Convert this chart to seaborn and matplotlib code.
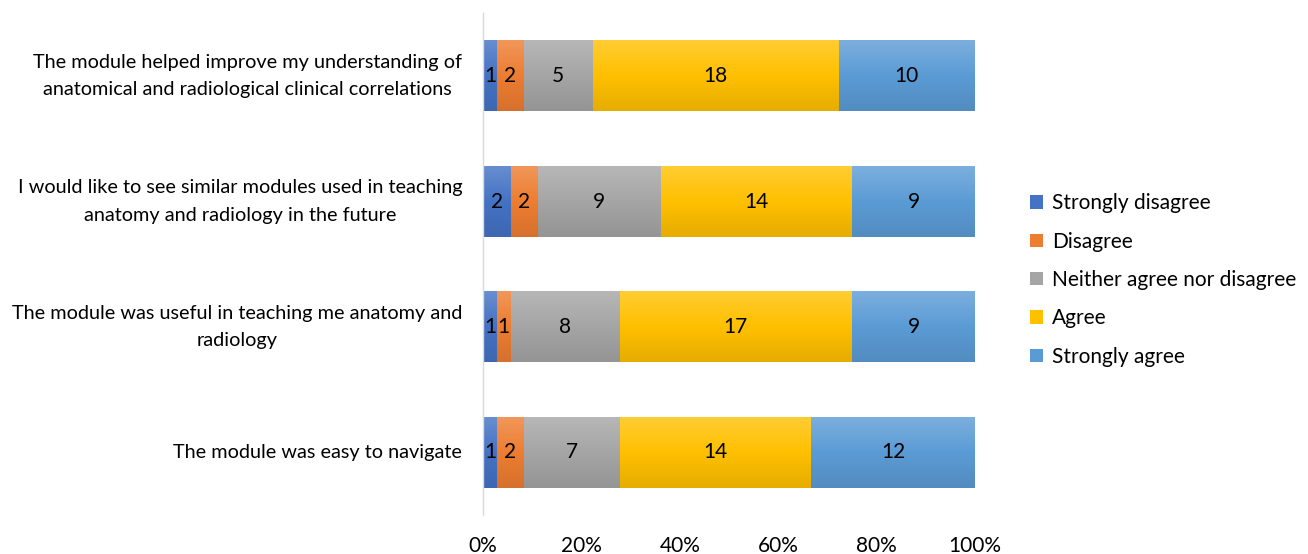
import numpy as np
import pandas as pd
import matplotlib
matplotlib.use("Agg")
import matplotlib.pyplot as plt
import seaborn as sns
from matplotlib.colors import LinearSegmentedColormap, to_rgb
from matplotlib.ticker import FuncFormatter
from matplotlib.patches import Patch

questions = [
    "The module helped improve my understanding of\nanatomical and radiological clinical correlations",
    "I would like to see similar modules used in teaching\nanatomy and radiology in the future",
    "The module was useful in teaching me anatomy and\nradiology",
    "The module was easy to navigate",
]
levels = ["Strongly disagree", "Disagree", "Neither agree nor disagree", "Agree", "Strongly agree"]
strongly_disagree = [1, 2, 1, 1]
disagree = [2, 2, 1, 2]
neither = [5, 9, 8, 7]
agree = [18, 14, 17, 14]
strongly_agree = [10, 9, 9, 12]
colors = ["#4472C4", "#ED7D31", "#A5A5A5", "#FFC000", "#5B9BD5"]
xticks = [0, 20, 40, 60, 80, 100]

counts = np.array([strongly_disagree, disagree, neither, agree, strongly_agree], dtype=float)
totals = counts.sum(axis=0)
pct = counts / totals * 100
cum = np.cumsum(pct, axis=0)

sns.set_theme(style="white")
plt.rcParams["font.family"] = ["Lato", "DejaVu Sans"]
plt.rcParams["text.color"] = "black"
plt.rcParams["xtick.color"] = "black"
plt.rcParams["ytick.color"] = "black"

fig = plt.figure(figsize=(13.08, 5.54), dpi=100)
ax = fig.add_axes([483 / 1308, 1 - 515.25 / 554, (975 - 483) / 1308, (515.25 - 13.25) / 554])

def grad_cmap(c):
    r = np.array(to_rgb(c))
    top = r + (1 - r) * 0.2
    bot = r * 0.9
    return LinearSegmentedColormap.from_list("g", [top, r, bot])

grad = np.linspace(0, 1, 256).reshape(-1, 1)
order = list(range(len(levels)))[::-1]
zc = 1.0
for i in order:
    n_before = len(ax.patches)
    df = pd.DataFrame({"question": questions, "value": cum[i]})
    sns.barplot(data=df, x="value", y="question", order=questions, color=colors[i],
                orient="h", width=0.56, ax=ax, saturation=1, label=levels[i])
    new = ax.patches[n_before:]
    cm = grad_cmap(colors[i])
    for p in new:
        x0, y0 = p.get_x(), p.get_y()
        w, h = p.get_width(), p.get_height()
        zc += 0.01
        ax.imshow(grad, cmap=cm, aspect="auto", origin="upper",
                  extent=[x0, x0 + w, y0 + h, y0], zorder=zc, interpolation="bilinear")
        p.set_zorder(0.5)

# value labels
for j in range(len(questions)):
    for i in range(len(levels)):
        xc = cum[i, j] - pct[i, j] / 2
        ax.text(xc, j, f"{int(counts[i, j])}", ha="center", va="center",
                fontsize=15, color="black", zorder=10)

ax.set_xlim(0, 100)
ax.set_ylim(len(questions) - 0.5, -0.5)
ax.set_xticks(xticks)
ax.xaxis.set_major_formatter(FuncFormatter(lambda v, _: f"{v:.0f}%"))
ax.set_xlabel("")
ax.set_ylabel("")
ax.tick_params(axis="x", length=0, pad=15, labelsize=15)
ax.tick_params(axis="y", length=0, pad=15, labelsize=14.3)
for lbl in ax.get_yticklabels():
    lbl.set_multialignment("center")
    lbl.set_linespacing(1.75)
    lbl.set_verticalalignment("center")
for s in ["top", "right", "bottom"]:
    ax.spines[s].set_visible(False)
ax.spines["left"].set_color("#D9D9D9")
ax.spines["left"].set_linewidth(1)
ax.grid(False)

lh = [Patch(facecolor=colors[i], edgecolor="none", label=levels[i]) for i in range(len(levels))]
ax.legend(handles=lh, loc="center left", bbox_to_anchor=(1030 / 1308, 1 - 280 / 554),
          bbox_transform=fig.transFigure, frameon=False, fontsize=15,
          handlelength=0.6, handleheight=0.6, handletextpad=0.45, labelspacing=0.88,
          borderaxespad=0, borderpad=0)

fig.savefig("out.png", dpi=100)
